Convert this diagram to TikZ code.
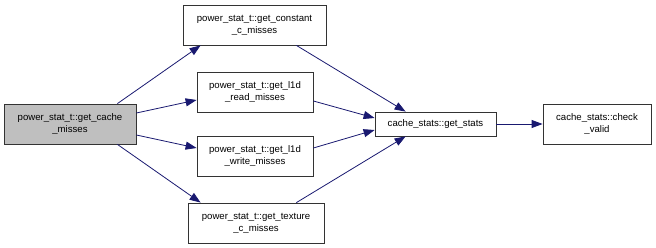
\documentclass[tikz,border=0pt]{standalone}
\usepackage{fontspec}
\setmainfont{Liberation Sans}
\usetikzlibrary{arrows.meta}
\definecolor{edgeblue}{HTML}{191970}
\begin{document}
\begin{tikzpicture}[x=1pt,y=-1pt,
  fn/.style={draw=black!80, line width=0.8pt, fill=white, align=center,
    font=\fontsize{9.6}{12}\selectfont, inner sep=0pt, minimum height=40pt},
  call/.style={draw=edgeblue, line width=0.8pt,
    -{Triangle[length=11pt,width=8pt,fill=edgeblue]}}]
\useasboundingbox (0,0) rectangle (656,248);

% caller
\node[fn, fill=black!25, minimum width=132pt] (cache) at (70,124)
  {power\_stat\_t::get\_cache\\\_misses};

% per-statistic getters
\node[fn, minimum width=143pt] (const) at (254.5,25)
  {power\_stat\_t::get\_constant\\\_c\_misses};
\node[fn, minimum width=116pt] (read) at (255,92)
  {power\_stat\_t::get\_l1d\\\_read\_misses};
\node[fn, minimum width=116pt] (write) at (255,156)
  {power\_stat\_t::get\_l1d\\\_write\_misses};
\node[fn, minimum width=136pt] (tex) at (256,223)
  {power\_stat\_t::get\_texture\\\_c\_misses};

% cache_stats helpers
\node[fn, minimum width=121pt, minimum height=24pt] (stats) at (435.5,124)
  {cache\_stats::get\_stats};
\node[fn, minimum width=108pt] (check) at (597,124)
  {cache\_stats::check\\\_valid};

% calls
\draw[call] ([xshift=-19pt]cache.north east) -- ([xshift=18pt]const.south west);
\draw[call] ([yshift=11pt]cache.east) -- ([yshift=-8pt]read.west);
\draw[call] ([yshift=-11pt]cache.east) -- ([yshift=8pt]write.west);
\draw[call] ([xshift=-19pt]cache.south east) -- ([xshift=13pt]tex.north west);

\draw[call] ([xshift=-30pt]const.south east) -- ([xshift=31pt]stats.north west);
\draw[call] ([yshift=-9pt]read.east) -- ([yshift=6pt]stats.west);
\draw[call] ([yshift=8pt]write.east) -- ([yshift=-6pt]stats.west);
\draw[call] ([xshift=-28pt]tex.north east) -- ([xshift=31pt]stats.south west);

\draw[call] (stats) -- (check);
\end{tikzpicture}
\end{document}
